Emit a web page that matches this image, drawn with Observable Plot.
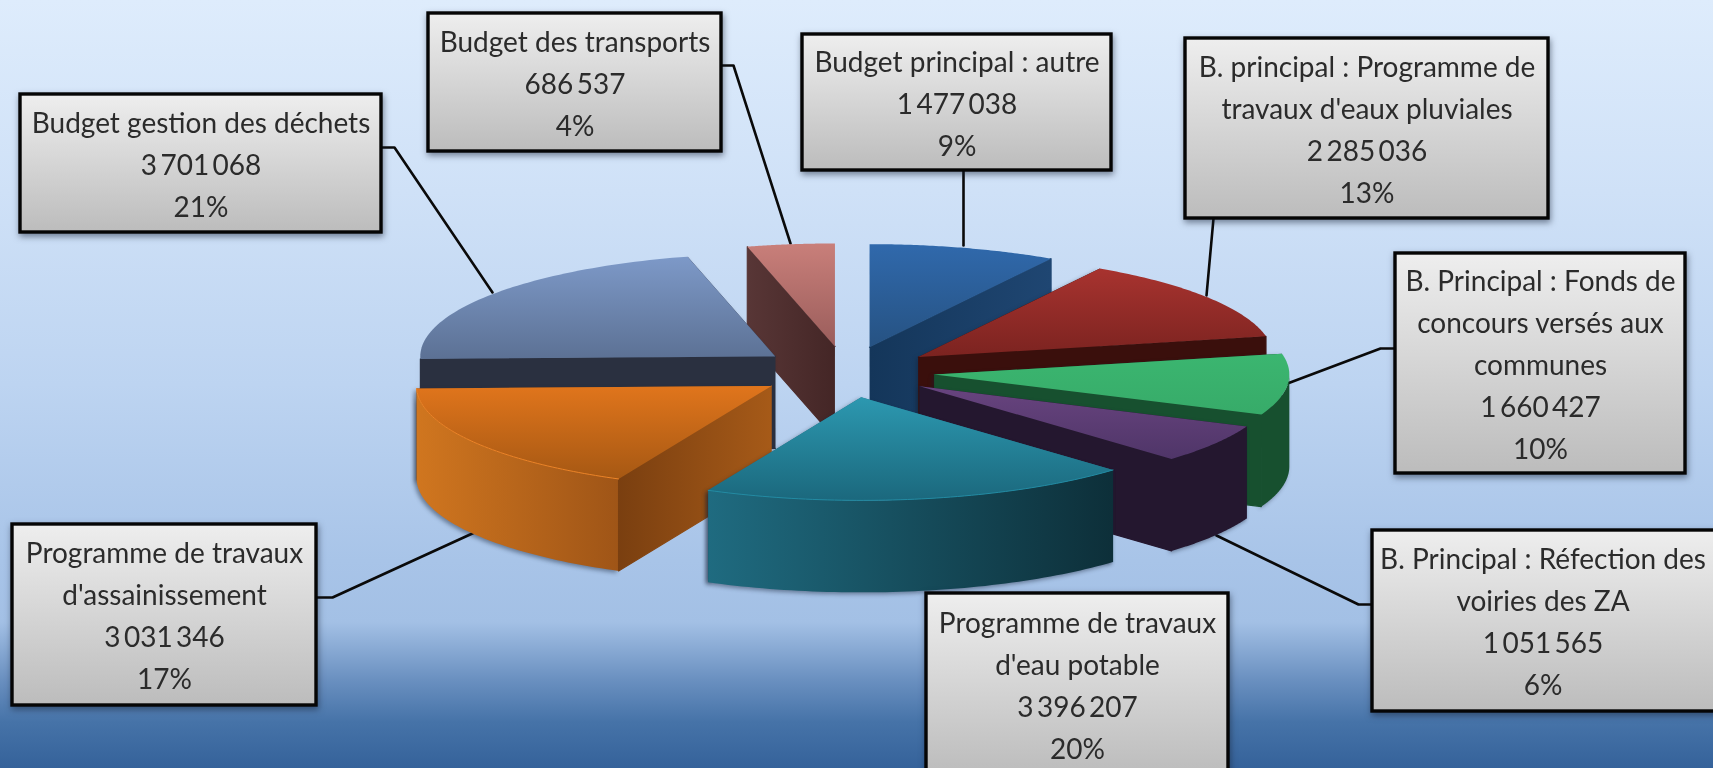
<!DOCTYPE html>
<html lang="fr">
<head>
<meta charset="utf-8">
<script src="https://cdn.jsdelivr.net/npm/d3@7"></script>
<script src="https://cdn.jsdelivr.net/npm/@observablehq/plot@0.6"></script>
<style>html,body{margin:0;padding:0;overflow:hidden;background:#3a6499}svg{display:block}</style>
</head>
<body>
<div id="chart"></div>
<script>
// Data, clockwise from 12 o'clock
const categories = [
  "Budget principal : autre",
  "B. principal : Programme de\ntravaux d'eaux pluviales",
  "B. Principal : Fonds de\nconcours versés aux\ncommunes",
  "B. Principal : Réfection des\nvoiries des ZA",
  "Programme de travaux\nd'eau potable",
  "Programme de travaux\nd'assainissement",
  "Budget gestion des déchets",
  "Budget des transports"
];
const values = [1477038, 2285036, 1660427, 1051565, 3396207, 3031346, 3701068, 686537];
const percents = [9, 13, 10, 6, 20, 17, 21, 4];

// Layout
const W = 1713, H = 768;
const pieCenter = [845.5, 371.5], rx = 355, ry = 103, depth = 92, explode = 0.25;
const drawOrder = [7, 6, 5, 0, 1, 2, 3, 4];
const boxX1 = [802, 1185, 1395, 1372, 926, 12, 20, 428];
const boxX2 = [1111, 1548, 1685, 1718, 1228, 316, 381, 721];
const boxY1 = [34, 38, 253, 530, 593, 524, 94, 13];
const boxY2 = [170, 218, 473, 711, 775, 705, 232, 151];
const leaders = [
  [[963,170],[963,245]],
  [[1213,218],[1206,295]],
  [[1395,348],[1380,348],[1287,383]],
  [[1372,604],[1358,604],[1216,535]],
  [],
  [[316,597],[332,597],[474,532]],
  [[381,147],[394,147],[492,292]],
  [[721,65],[733,65],[790,243]]
];
// Styles: top gradient, arc gradient, radial gradient
const topColors = [["#3069ac","#265282"],["#a8332f","#7b2320"],["#3bb670","#37ab69"],["#68447f","#4f3568"],["#2c98b0","#1b687d"],["#e0751c","#a65813"],["#7d99c8","#5c7194"],["#c97f7a","#9a5d5b"]];
const arcColors = [["#1c3f6a","#1c3f6a"],["#3a0f0c","#3a0f0c"],["#17502f","#17502f"],["#24172f","#24172f"],["#1f6b80","#0d2f39"],["#d0761f","#9f5517"],["#2a3040","#2a3040"],["#4a2b2b","#4a2b2b"]];
const radColors = [["#14365a","#1f4672"],["#3a0f0c","#3a0f0c"],["#17502f","#17502f"],["#24172f","#24172f"],["#1f6b80","#1f6b80"],["#7a3f10","#a65a18"],["#2a3040","#2a3040"],["#583636","#442626"]];
const rimColors = [null, null, null, null, "#238ba3", "#ec8428", null, null];

const slices = d3.pie().sort(null).value(d => d)(values);
const project = (c, r, t, z = 0) => [c[0] + rx * r * Math.sin(t), c[1] - ry * r * Math.cos(t) + z * depth];
const arcPts = (c, a, b, z) => d3.range(0, 61).map(i => project(c, 1, a + (b - a) * i / 60, z));
const face = (pts, fill, extra = {}) => Plot.line(pts, {x: d => d[0], y: d => d[1], fill, stroke: "none", ...extra});
const shadow = "drop-shadow(-2px 2px 2px rgba(20,30,50,.45))";

const pieMarks = drawOrder.flatMap(i => {
  const {startAngle: a, endAngle: b} = slices[i];
  const m = (a + b) / 2;
  const apex = project(pieCenter, explode, m);
  const radial = t => {
    const p = project(apex, 1, t);
    return [apex, p, [p[0], p[1] + depth], [apex[0], apex[1] + depth]];
  };
  const out = [];
  const startFront = Math.sin(a) < -1e-6, endFront = Math.sin(b) > 1e-6;
  const radFill = `url(#rad${i})`;
  const seal = {stroke: radFill, strokeWidth: 1.2};
  if (!startFront) out.push(face(radial(a), radFill, {imageFilter: shadow}));
  if (!endFront) out.push(face(radial(b), radFill, {imageFilter: shadow}));
  const a2 = Math.max(a, Math.PI / 2), b2 = Math.min(b, 3 * Math.PI / 2);
  if (a2 < b2) out.push(face([...arcPts(apex, a2, b2, 0), ...arcPts(apex, a2, b2, 1).reverse()], `url(#arc${i})`, {imageFilter: shadow}));
  if (startFront) out.push(face(radial(a), radFill, seal));
  if (endFront) out.push(face(radial(b), radFill, seal));
  out.push(face([apex, ...arcPts(apex, a, b, 0)], `url(#top${i})`));
  if (rimColors[i]) out.push(Plot.line(arcPts(apex, a, b, 0), {x: d => d[0], y: d => d[1], stroke: rimColors[i], strokeWidth: 1}));
  return out;
});

const nb = v => d3.format(",")(v).replace(/,/g, "\u2009");
const boxes = categories.map((c, i) => ({
  x1: boxX1[i], x2: boxX2[i], y1: boxY1[i], y2: boxY2[i],
  text: `${c}\n${nb(values[i])}\n${percents[i]}%`
}));
const cx = d => (Math.max(d.x1, 0) + Math.min(d.x2, W)) / 2;

const chart = Plot.plot({
  width: W, height: H, margin: 0,
  x: {domain: [0, W], range: [0, W], axis: null},
  y: {domain: [0, H], range: [0, H], axis: null},
  style: {background: "linear-gradient(180deg,#deecfc 0%,#cfe1f7 25%,#bdd4f1 50%,#a8c4e8 73%,#a3c0e5 81%,#6a90c0 88.5%,#4673a8 94%,#35629a 100%)", fontFamily: "Lato"},
  marks: [
    ...leaders.filter(l => l.length).map(l => Plot.line(l, {x: d => d[0], y: d => d[1], stroke: "#0a0a0a", strokeWidth: 2.6, curve: "linear"})),
    ...pieMarks,
    Plot.rect(boxes, {x1: "x1", x2: "x2", y1: "y1", y2: "y2", fill: "url(#boxFill)", stroke: "#050505", strokeWidth: 3.4, imageFilter: "drop-shadow(1px 3px 3px rgba(20,30,50,.5))"}),
    Plot.text(boxes, {x: cx, y: d => (d.y1 + Math.min(d.y2, H + 7)) / 2 - 2, text: "text", fontSize: 28, lineHeight: 1.5, fontFamily: "Lato", fill: "#2b2b2b", imageFilter: "blur(.35px)"})
  ]
});

const defs = d3.select(chart).append("defs");
const grad = (id, [c0, c1], horizontal) => {
  const g = defs.append("linearGradient").attr("id", id).attr("x1", 0).attr("y1", 0).attr("x2", horizontal ? 1 : 0).attr("y2", horizontal ? 0 : 1);
  g.append("stop").attr("offset", 0).attr("stop-color", c0);
  g.append("stop").attr("offset", 1).attr("stop-color", c1);
};
topColors.forEach((c, i) => grad(`top${i}`, c, false));
arcColors.forEach((c, i) => grad(`arc${i}`, c, true));
radColors.forEach((c, i) => grad(`rad${i}`, c, true));
grad("boxFill", ["#eeeeee", "#bcbcbc"], false);
document.getElementById("chart").append(chart);
</script>
</body>
</html>
